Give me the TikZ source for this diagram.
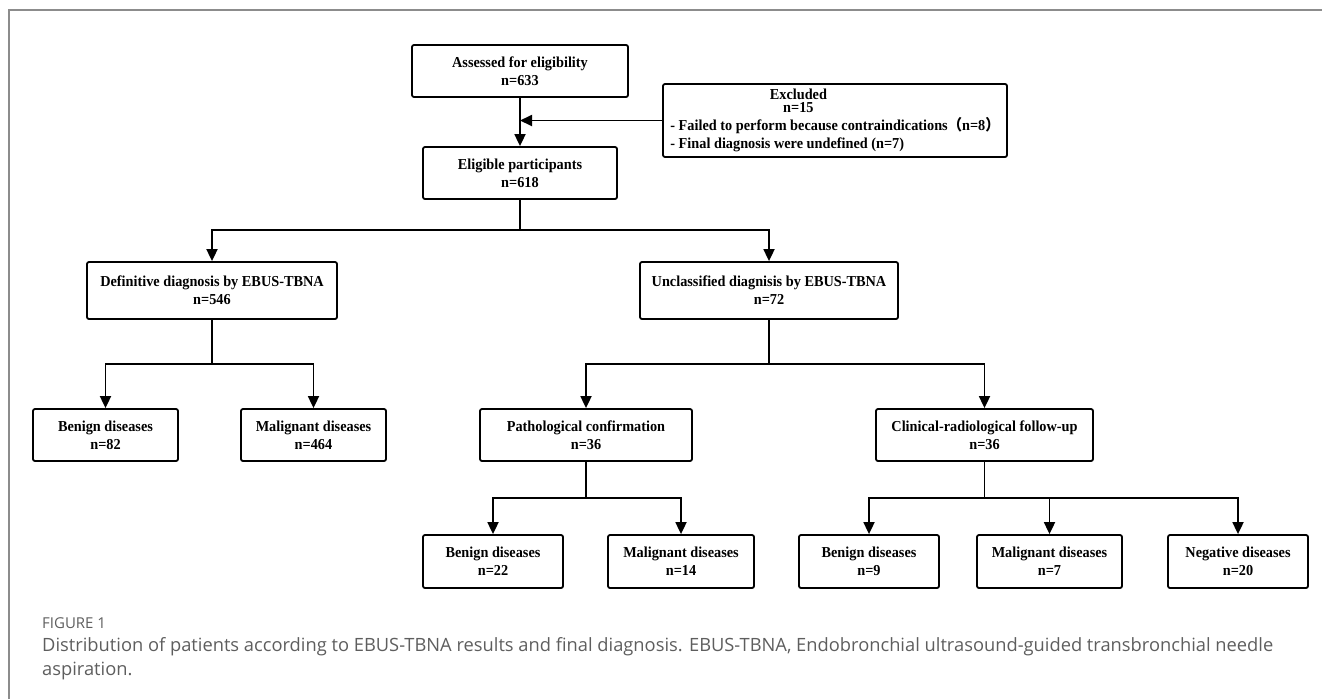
\documentclass[tikz,border=0pt]{standalone}
\usepackage{fontspec}
\setmainfont{Liberation Serif}[FakeStretch=0.94]
\newfontfamily\capfont{Open Sans}
\newfontfamily\cjk{Noto Sans CJK SC}[FakeStretch=0.94]
\usetikzlibrary{arrows.meta}
\definecolor{framegray}{HTML}{8C8C8C}
\definecolor{capgray}{HTML}{5E5E5E}

\begin{document}
\begin{tikzpicture}[x=1pt, y=-1pt,
    box/.style={draw, line width=1.8pt, rounded corners=2pt, align=center, inner sep=0pt,
        minimum height=52pt, font=\bfseries\fontsize{15.2}{18}\selectfont},
    link/.style={line width=1.8pt},
    arr/.style={link, -{Triangle[length=12pt, width=11pt]}},
    captxt/.style={anchor=base west, inner sep=0pt, text=capgray}]
    \useasboundingbox (0,0) rectangle (1322,699);
    % Frame
    \draw[framegray, line width=2pt] (9,699) -- (9,10) -- (1322,10);

    % Nodes
    \node[box, minimum width=216pt] (assess) at (520,71) {Assessed for eligibility\\n=633};
    \node[box, minimum width=194pt] (elig) at (520,173) {Eligible participants\\n=618};
    \node[box, minimum width=344pt, minimum height=73pt] (excl) at (835,120.5)
        {\begin{tabular}{@{}l@{}}
         \hspace*{128pt}\makebox[0pt]{Excluded}\\[-5pt]
         \hspace*{128pt}\makebox[0pt]{n=15}\\
         - Failed to perform because contraindications{\cjk （}n=8{\cjk ）}\\
         - Final diagnosis were undefined (n=7)
         \end{tabular}};
    \node[box, minimum width=250pt, minimum height=57pt] (defin) at (212,290.5) {Definitive diagnosis by EBUS-TBNA\\n=546};
    \node[box, minimum width=258pt, minimum height=57pt] (unclass) at (769,290.5) {Unclassified diagnisis by EBUS-TBNA\\n=72};
    \node[box, minimum width=145pt] (benA) at (105.5,435) {Benign diseases\\n=82};
    \node[box, minimum width=145pt] (malA) at (313.5,435) {Malignant diseases\\n=464};
    \node[box, minimum width=212pt] (patho) at (586,435) {Pathological confirmation\\n=36};
    \node[box, minimum width=217pt] (clin) at (984.5,435) {Clinical-radiological follow-up\\n=36};
    \node[box, minimum width=140pt, minimum height=53pt] (benB) at (493,561.5) {Benign diseases\\n=22};
    \node[box, minimum width=146pt, minimum height=53pt] (malB) at (681,561.5) {Malignant diseases\\n=14};
    \node[box, minimum width=140pt, minimum height=53pt] (benC) at (869,561.5) {Benign diseases\\n=9};
    \node[box, minimum width=145pt, minimum height=53pt] (malC) at (1049.5,561.5) {Malignant diseases\\n=7};
    \node[box, minimum width=140pt, minimum height=53pt] (negC) at (1238,561.5) {Negative diseases\\n=20};

    % Branch points
    \coordinate (side) at (520,120.5);
    \coordinate (b0) at (520,230);
    \coordinate (b1) at (212,364);
    \coordinate (b2) at (769,364);
    \coordinate (b3) at (586,498);
    \coordinate (b4) at (984.5,498);

    % Arrows
    \draw[arr] (assess) -- (elig);
    \draw[arr] (excl.west) -- (side);
    \draw[link] (elig) -- (b0);
    \draw[arr] (b0) -| (defin);
    \draw[arr] (b0) -| (unclass);
    \draw[link] (defin) -- (b1);
    \draw[arr] (b1) -| (benA);
    \draw[arr] (b1) -| (malA);
    \draw[link] (unclass) -- (b2);
    \draw[arr] (b2) -| (patho);
    \draw[arr] (b2) -| (clin);
    \draw[link] (patho) -- (b3);
    \draw[arr] (b3) -| (benB);
    \draw[arr] (b3) -| (malB);
    \draw[link] (clin) -- (b4);
    \draw[arr] (b4) -| (benC);
    \draw[arr] (b4 -| malC) -- (malC);
    \draw[arr] (b4) -| (negC);

    % Caption
    \node[captxt, font=\capfont\fontsize{15}{18}\selectfont] (fig) at (42,628) {FIGURE 1};
    \node[captxt, font=\capfont\fontsize{18.3}{24}\selectfont] (cap1) at (42,651)
        {Distribution of patients according to EBUS-TBNA results and final diagnosis. EBUS-TBNA, Endobronchial ultrasound-guided transbronchial needle};
    \node[captxt, font=\capfont\fontsize{18.3}{24}\selectfont] (cap2) at (42,675) {aspiration.};
\end{tikzpicture}
\end{document}
